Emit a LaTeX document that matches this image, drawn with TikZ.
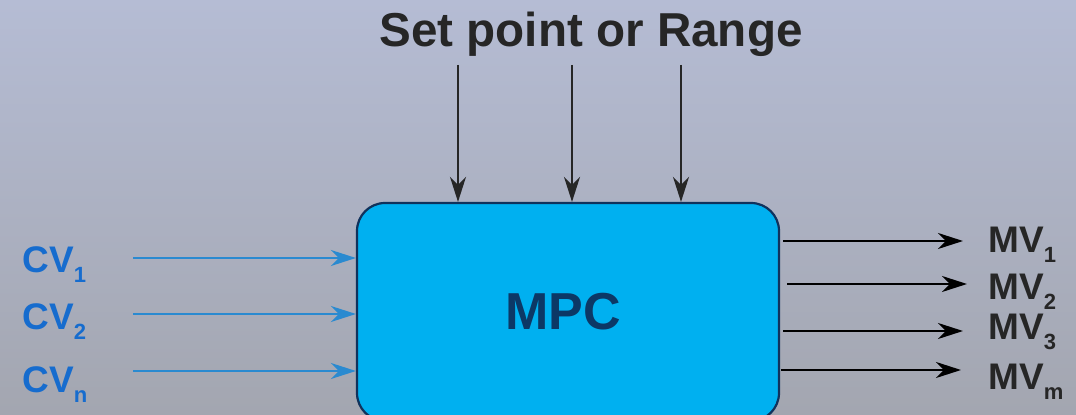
\documentclass[tikz,border=0pt]{standalone}
\usepackage{fontspec}
\setmainfont{Liberation Sans}
\usepackage{xcolor}
\usetikzlibrary{arrows.meta,positioning}
\definecolor{bgtop}{RGB}{181,188,212}
\definecolor{bgbot}{RGB}{163,166,176}
\definecolor{mpcfill}{RGB}{0,176,240}
\definecolor{mpcline}{RGB}{16,50,92}
\definecolor{mpctext}{RGB}{12,56,102}
\definecolor{cvblue}{RGB}{22,108,206}
\definecolor{cvarrow}{RGB}{42,138,208}
\definecolor{darktext}{RGB}{38,38,38}
\newcommand{\lowidx}[1]{\raisebox{-5pt}{\fontsize{11pt}{11pt}\selectfont #1}}

\begin{document}
\begin{tikzpicture}[x=0.5pt,y=-0.5pt,>={Stealth[length=12.5pt,width=8pt,inset=4pt]}]
\tikzstyle{ctrl}=[rectangle,rounded corners=14pt,draw=mpcline,line width=1.1pt,fill=mpcfill,minimum width=211pt,minimum height=109pt,font=\fontsize{26pt}{28pt}\selectfont\bfseries,text=mpctext]
\tikzstyle{cvlabel}=[inner sep=0pt,anchor=base west,text=cvblue,font=\fontsize{18.5pt}{20pt}\selectfont\bfseries]
\tikzstyle{mvlabel}=[inner sep=0pt,anchor=base west,text=darktext,font=\fontsize{18.5pt}{20pt}\selectfont\bfseries]
\tikzstyle{inflow}=[->,draw=cvarrow,line width=1.2pt]
\tikzstyle{outflow}=[->,draw=black,line width=1.2pt]
\tikzstyle{spflow}=[->,draw=darktext,line width=1.1pt]
\useasboundingbox (0,0) rectangle (1076,415);
\shade[top color=bgtop,bottom color=bgbot] (0,0) rectangle (1076,415);
\clip (0,0) rectangle (1076,415);
% controller block
\node[ctrl] (mpc) at (568,312) {\hspace*{-5pt}MPC};
% set point input
\node[inner sep=0pt,anchor=base,text=darktext,font=\fontsize{23.8pt}{26pt}\selectfont\bfseries] (sp) at (591,47) {Set point or Range};
\coordinate (sp1) at (458,65);
\coordinate (sp2) at (572,65);
\coordinate (sp3) at (681,65);
\foreach \s in {sp1,sp2,sp3}
  \draw[spflow] (\s)--(\s |- mpc.north);
% controlled variables
\node[cvlabel] (cv1) at (22,273) {CV\lowidx{1}};
\node[cvlabel] (cv2) at (22,330) {CV\lowidx{2}};
\node[cvlabel] (cvn) at (22,393) {CV\lowidx{n}};
\coordinate (cvs1) at (133,258);
\coordinate (cvs2) at (133,314);
\coordinate (cvsn) at (133,371);
\foreach \s in {cvs1,cvs2,cvsn}
  \draw[inflow] (\s)--(\s -| mpc.west);
% manipulated variables
\node[mvlabel] (mv1) at (988,253) {MV\lowidx{1}};
\node[mvlabel] (mv2) at (988,300) {MV\lowidx{2}};
\node[mvlabel] (mv3) at (988,340) {MV\lowidx{3}};
\node[mvlabel] (mvm) at (988,390) {MV\lowidx{m}};
\coordinate (mvs1) at (783,241);\coordinate (mve1) at (963,241);
\coordinate (mvs2) at (787,284);\coordinate (mve2) at (967,284);
\coordinate (mvs3) at (783,331);\coordinate (mve3) at (963,331);
\coordinate (mvsm) at (781,370);\coordinate (mvem) at (961,370);
\draw[outflow] (mvs1)--(mve1);\draw[outflow] (mvs2)--(mve2);
\draw[outflow] (mvs3)--(mve3);\draw[outflow] (mvsm)--(mvem);
\end{tikzpicture}
\end{document}
